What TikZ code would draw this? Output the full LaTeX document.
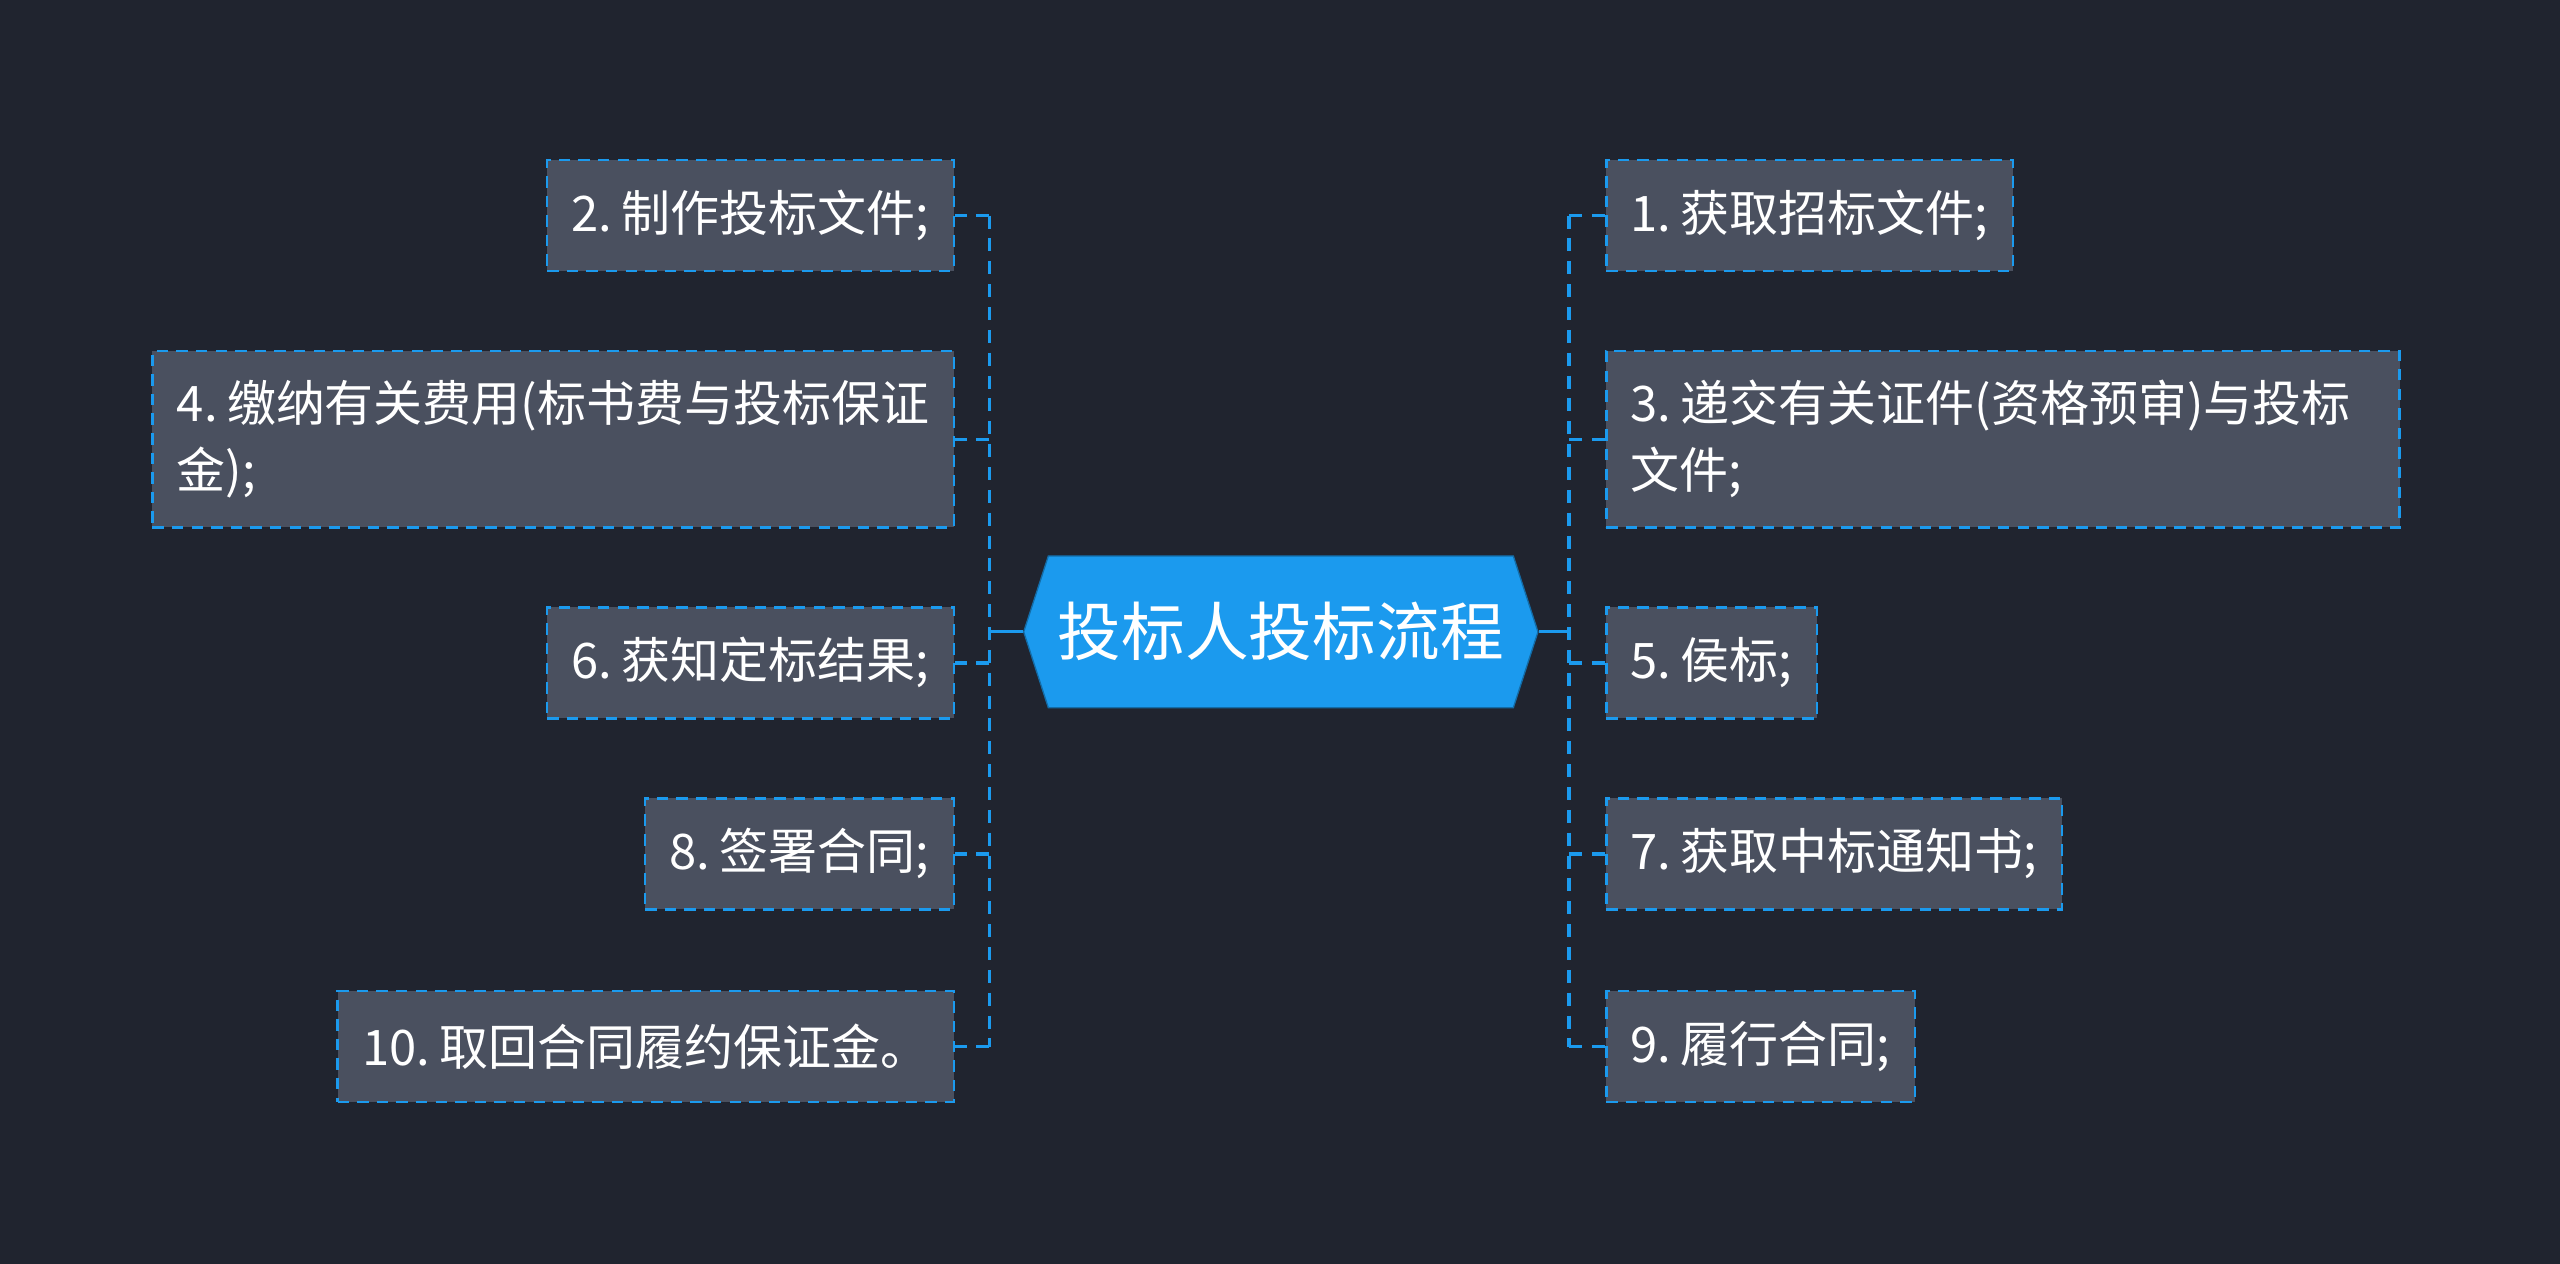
\documentclass[tikz,border=0pt]{standalone}
\usepackage{fontspec}
\newfontfamily\cjk{Noto Sans CJK SC}
\usetikzlibrary{shapes.symbols}
\definecolor{bgcol}{HTML}{20242F}
\definecolor{boxcol}{HTML}{4A505F}
\definecolor{linkcol}{HTML}{1B9AEE}
\newcommand\leaffont{\cjk\fontsize{30}{41}\selectfont\spaceskip=3.5pt\relax}

\begin{document}
\begin{tikzpicture}
      [x=1pt,y=-1pt,
      every node/.style={text=white,font=\leaffont},
      root/.style={shape=signal,signal to=west and east,signal pointer angle=144,
        fill=linkcol,draw=linkcol!70!black,line width=0.8pt,minimum width=315pt,
        minimum height=93pt,inner sep=0pt,font=\cjk\fontsize{39}{45}\selectfont},
      leaf/.style={shape=rectangle,fill=boxcol,draw=linkcol,line width=1.6pt,
        dash pattern=on 7pt off 5pt,inner xsep=15pt,inner ysep=0pt,
        minimum height=68pt,align=flush left},
      link/.style={draw=linkcol,line width=2pt},
      dlink/.style={link,dash pattern=on 8pt off 6pt}]
\fill[bgcol] (0,0) rectangle (1568,774);
\node[root] (root) at (784.5,387) {投标人投标流程};
\node[leaf,anchor=west] (s1) at (983,132) {1. 获取招标文件;};
\node[leaf,anchor=west,minimum height=108pt,text width=456pt] (s3) at (983,269) {\leaffont 3. 递交有关证件(资格预审)与投标\\文件;};
\node[leaf,anchor=west] (s5) at (983,406) {5. 侯标;};
\node[leaf,anchor=west] (s7) at (983,523) {7. 获取中标通知书;};
\node[leaf,anchor=west] (s9) at (983,641) {9. 履行合同;};
\node[leaf,anchor=east] (s2) at (585,132) {2. 制作投标文件;};
\node[leaf,anchor=east,minimum height=108pt] (s4) at (585,269) {4. 缴纳有关费用(标书费与投标保证\\金);};
\node[leaf,anchor=east] (s6) at (585,406) {6. 获知定标结果;};
\node[leaf,anchor=east] (s8) at (585,523) {8. 签署合同;};
\node[leaf,anchor=east] (s10) at (585,641) {10. 取回合同履约保证金。};
\coordinate (rfork) at (961,387);
\coordinate (lfork) at (606,387);
\draw[link] (root.east) -- (rfork);
\draw[link] (root.west) -- (lfork);
\draw[dlink] (rfork |- s1.west) -- (rfork |- s9.west);
\draw[dlink] (lfork |- s2.east) -- (lfork |- s10.east);
\foreach \n in {1,3,5,7,9}
  \draw[dlink] (rfork |- s\n.west) -- (s\n.west);
\foreach \n in {2,4,6,8,10}
  \draw[dlink] (lfork |- s\n.east) -- (s\n.east);
\end{tikzpicture}
\end{document}
